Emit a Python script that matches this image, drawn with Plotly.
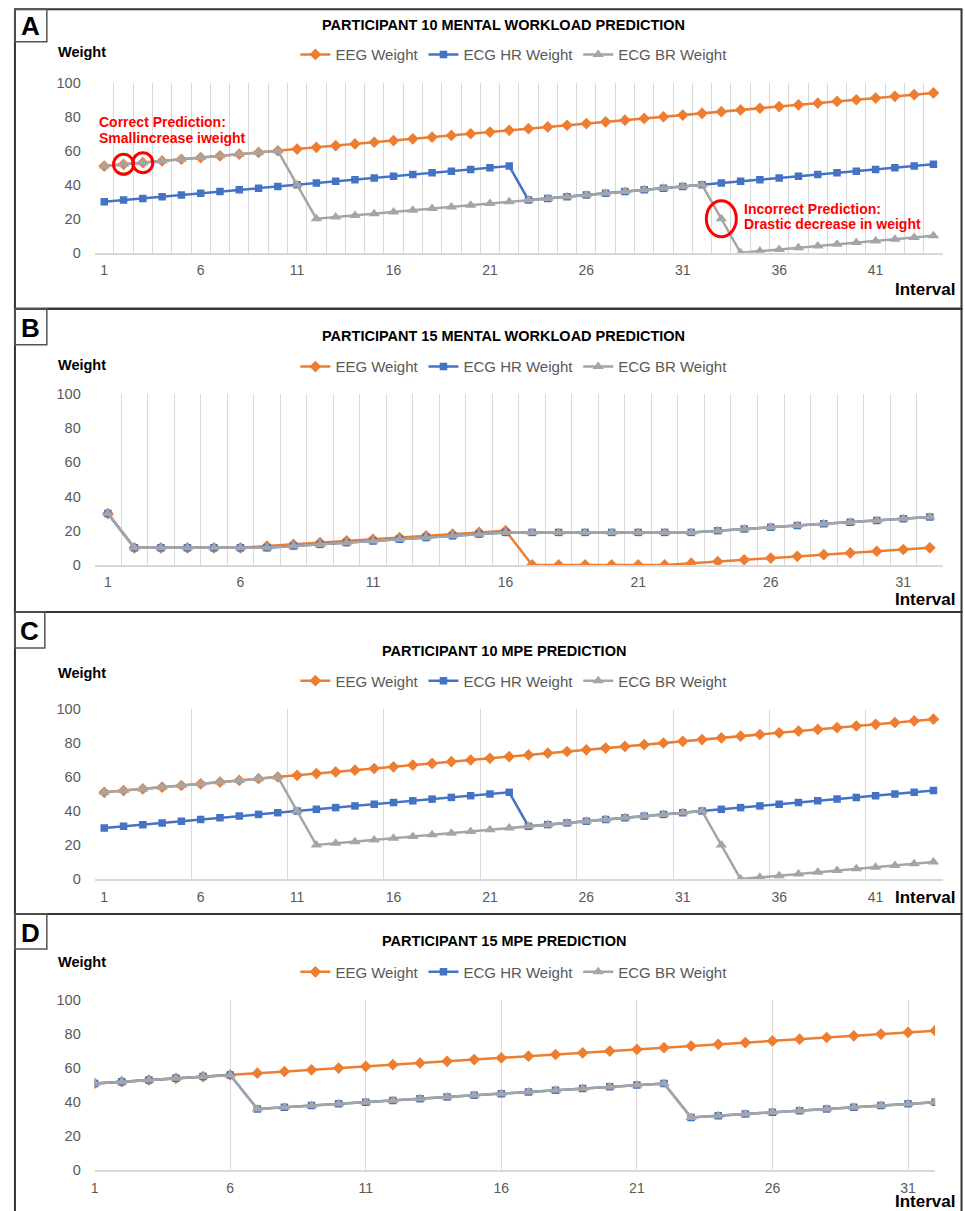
import plotly.graph_objects as go

W, H = 965, 1211
# vertical calibration of the photographed page (measured on earlier renders)
Y_SCALE, Y_SHIFT = 0.9864, 8.3

# ---------------- data ----------------
# Panel A: Participant 10 mental workload prediction
P10_MW_INTERVAL = list(range(1, 45))
P10_MW_EEG = [51, 52, 53, 54, 55, 56, 57, 58, 59, 60, 61, 62, 63, 64, 65, 66, 67, 68, 69, 70, 71, 72,
              73, 74, 75, 76, 77, 78, 79, 80, 81, 82, 83, 84, 85, 86, 87, 88, 89, 90, 91, 92, 93, 94]
P10_MW_HR = [30, 31, 32, 33, 34, 35, 36, 37, 38, 39, 40, 41, 42, 43, 44, 45, 46, 47, 48, 49, 50, 51,
             31, 32, 33, 34, 35, 36, 37, 38, 39, 40, 41, 42, 43, 44, 45, 46, 47, 48, 49, 50, 51, 52]
P10_MW_BR = [51, 52, 53, 54, 55, 56, 57, 58, 59, 60, 40, 20, 21, 22, 23, 24, 25, 26, 27, 28, 29, 30,
             31, 32, 33, 34, 35, 36, 37, 38, 39, 40, 20, 0, 1, 2, 3, 4, 5, 6, 7, 8, 9, 10]

# Panel B: Participant 15 mental workload prediction
P15_MW_INTERVAL = list(range(1, 33))
P15_MW_EEG = [30, 10, 10, 10, 10, 10, 11, 12, 13, 14, 15, 16, 17, 18, 19, 20,
              0, 0, 0, 0, 0, 0, 1, 2, 3, 4, 5, 6, 7, 8, 9, 10]
P15_MW_HR = [30, 10, 10, 10, 10, 10, 10, 11, 12, 13, 14, 15, 16, 17, 18, 19,
             19, 19, 19, 19, 19, 19, 19, 20, 21, 22, 23, 24, 25, 26, 27, 28]
P15_MW_BR = [30, 10, 10, 10, 10, 10, 10, 11, 12, 13, 14, 15, 16, 17, 18, 19,
             19, 19, 19, 19, 19, 19, 19, 20, 21, 22, 23, 24, 25, 26, 27, 28]

# Panel C: Participant 10 MPE prediction
P10_MPE_INTERVAL = list(range(1, 45))
P10_MPE_EEG = [51, 52, 53, 54, 55, 56, 57, 58, 59, 60, 61, 62, 63, 64, 65, 66, 67, 68, 69, 70, 71, 72,
               73, 74, 75, 76, 77, 78, 79, 80, 81, 82, 83, 84, 85, 86, 87, 88, 89, 90, 91, 92, 93, 94]
P10_MPE_HR = [30, 31, 32, 33, 34, 35, 36, 37, 38, 39, 40, 41, 42, 43, 44, 45, 46, 47, 48, 49, 50, 51,
              31, 32, 33, 34, 35, 36, 37, 38, 39, 40, 41, 42, 43, 44, 45, 46, 47, 48, 49, 50, 51, 52]
P10_MPE_BR = [51, 52, 53, 54, 55, 56, 57, 58, 59, 60, 40, 20, 21, 22, 23, 24, 25, 26, 27, 28, 29, 30,
              31, 32, 33, 34, 35, 36, 37, 38, 39, 40, 20, 0, 1, 2, 3, 4, 5, 6, 7, 8, 9, 10]

# Panel D: Participant 15 MPE prediction
P15_MPE_INTERVAL = list(range(1, 33))
P15_MPE_EEG = [51, 52, 53, 54, 55, 56, 57, 58, 59, 60, 61, 62, 63, 64, 65, 66,
               67, 68, 69, 70, 71, 72, 73, 74, 75, 76, 77, 78, 79, 80, 81, 82]
P15_MPE_HR = [51, 52, 53, 54, 55, 56, 36, 37, 38, 39, 40, 41, 42, 43, 44, 45,
              46, 47, 48, 49, 50, 51, 31, 32, 33, 34, 35, 36, 37, 38, 39, 40]
P15_MPE_BR = [51, 52, 53, 54, 55, 56, 36, 37, 38, 39, 40, 41, 42, 43, 44, 45,
              46, 47, 48, 49, 50, 51, 31, 32, 33, 34, 35, 36, 37, 38, 39, 40]

TICKS_44 = [1, 6, 11, 16, 21, 26, 31, 36, 41]
TICKS_32 = [1, 6, 11, 16, 21, 26, 31]
Y_TICKS = [0, 20, 40, 60, 80, 100]

SERIES_NAMES = ["EEG Weight", "ECG HR Weight", "ECG BR Weight"]
TITLES = ["PARTICIPANT 10 MENTAL WORKLOAD PREDICTION", "PARTICIPANT 15 MENTAL WORKLOAD PREDICTION",
          "PARTICIPANT 10 MPE PREDICTION", "PARTICIPANT 15 MPE PREDICTION"]
LABELS = ["A", "B", "C", "D"]

# ---------------- styling ----------------
FONT = "Liberation Sans, Arial, sans-serif"
COLORS = ["#ED7D31", "#4472C4", "#A5A5A5"]
SYMBOLS = ["diamond", "square", "triangle-up"]
MSIZES = [9, 7.5, 10]
GRID = "#D9D9D9"
TXT = "#595959"


def px(xp):
    return xp / W


def py(yp):
    page_y = (yp - Y_SHIFT) / Y_SCALE
    return 1 - page_y / H


panels = [
    dict(x=P10_MW_INTERVAL, ys=[P10_MW_EEG, P10_MW_HR, P10_MW_BR], ticks=TICKS_44,
         xr=[0.5, 44.5], grid="between1", plot=(91, 943, 83, 253), title_y=25, legend_y=55,
         weight_y=52, interval_y=290, frame=(9.5, 309), lab=(9.5, 42, 43)),
    dict(x=P15_MW_INTERVAL, ys=[P15_MW_EEG, P15_MW_HR, P15_MW_BR], ticks=TICKS_32,
         xr=[0.5, 32.5], grid="between1", plot=(91, 943, 394, 565), title_y=336, legend_y=367,
         weight_y=365, interval_y=599.5, frame=(309, 612), lab=(309, 345, 43)),
    dict(x=P10_MPE_INTERVAL, ys=[P10_MPE_EEG, P10_MPE_HR, P10_MPE_BR], ticks=TICKS_44,
         xr=[0.5, 44.5], grid="between5", plot=(91, 943, 709, 879), title_y=651, legend_y=681,
         weight_y=673, interval_y=897, frame=(612, 914), lab=(612, 648, 41)),
    dict(x=P15_MPE_INTERVAL, ys=[P15_MPE_EEG, P15_MPE_HR, P15_MPE_BR], ticks=TICKS_32,
         xr=[1, 32], grid="ontick", plot=(91, 935, 1000, 1170), title_y=941, legend_y=972,
         weight_y=962, interval_y=1201.5, frame=(914, 1240), lab=(914, 949, 43)),
]

fig = go.Figure()
layout = dict(width=W, height=H, margin=dict(l=0, r=0, t=0, b=0), autosize=False,
              paper_bgcolor="white", plot_bgcolor="white", font=dict(family=FONT, color=TXT),
              showlegend=True)
annotations = []
shapes = []

for i, p in enumerate(panels):
    n = i + 1
    sfx = "" if n == 1 else str(n)
    lg = "legend" if n == 1 else f"legend{n}"
    for k in range(3):
        fig.add_trace(go.Scatter(
            x=p["x"], y=p["ys"][k], name=SERIES_NAMES[k], mode="lines+markers",
            line=dict(color=COLORS[k], width=2.5),
            marker=dict(symbol=SYMBOLS[k], size=MSIZES[k], color=COLORS[k], line=dict(width=0)),
            xaxis=f"x{sfx}", yaxis=f"y{sfx}", legend=lg, hoverinfo="skip"))
    x0, x1, y0, y1 = p["plot"]
    xa = dict(domain=[px(x0), px(x1)], anchor=f"y{sfx}", range=p["xr"],
              tickmode="array", tickvals=p["ticks"], ticktext=[str(t) for t in p["ticks"]],
              tickfont=dict(family=FONT, size=14, color=TXT),
              showline=True, linecolor=GRID, linewidth=1.5, zeroline=False,
              ticks="outside", ticklen=4, tickcolor="rgba(0,0,0,0)", fixedrange=True)
    if p["grid"] == "between1":
        xa.update(showgrid=False, minor=dict(tick0=0.5, dtick=1, showgrid=True, gridcolor=GRID,
                                             gridwidth=1.2, ticks=""))
    elif p["grid"] == "between5":
        xa.update(showgrid=False, minor=dict(tick0=0.5, dtick=5, showgrid=True, gridcolor=GRID,
                                             gridwidth=1.2, ticks=""))
    else:
        xa.update(showgrid=True, gridcolor=GRID, gridwidth=1.2)
    ya = dict(domain=[py(y1), py(y0)], anchor=f"x{sfx}", range=[0, 100],
              tickmode="array", tickvals=Y_TICKS, showgrid=False, zeroline=False, showline=False,
              tickfont=dict(family=FONT, size=14.5, color=TXT),
              ticks="outside", ticklen=10, tickcolor="rgba(0,0,0,0)", fixedrange=True)
    layout[f"xaxis{sfx}"] = xa
    layout[f"yaxis{sfx}"] = ya
    layout[lg] = dict(orientation="h", x=px(512), xanchor="center", y=py(p["legend_y"]),
                      yanchor="middle", font=dict(family=FONT, size=15, color=TXT),
                      bgcolor="rgba(0,0,0,0)", itemwidth=30, traceorder="normal",
                      itemclick=False, itemdoubleclick=False)

    # title, axis titles
    annotations.append(dict(text=f"<b>{TITLES[i]}</b>", x=px(502), y=py(p["title_y"]),
                            xref="paper", yref="paper", xanchor="center", yanchor="middle",
                            showarrow=False, font=dict(family=FONT, size=14.5, color="black")))
    annotations.append(dict(text="<b>Weight</b>", x=px(52), y=py(p["weight_y"]),
                            xref="paper", yref="paper", xanchor="left", yanchor="middle",
                            showarrow=False, font=dict(family=FONT, size=14.5, color="black")))
    annotations.append(dict(text="<b>Interval</b>", x=px(957), y=py(p["interval_y"]),
                            xref="paper", yref="paper", xanchor="right", yanchor="middle",
                            showarrow=False, font=dict(family=FONT, size=17, color="black")))
    # frame and label box
    ft, fb = p["frame"]
    shapes.append(dict(type="rect", xref="paper", yref="paper", x0=px(11), x1=px(961.5),
                       y0=py(fb), y1=py(ft), line=dict(color="#333333", width=2)))
    lt, lb, lr = p["lab"]
    shapes.append(dict(type="rect", xref="paper", yref="paper", x0=px(11), x1=px(lr),
                       y0=py(lb), y1=py(lt), line=dict(color="#555555", width=1.5)))
    annotations.append(dict(text=f"<b>{LABELS[i]}</b>", x=px((11 + lr) / 2), y=py((lt + lb) / 2 + 1),
                            xref="paper", yref="paper", xanchor="center", yanchor="middle",
                            showarrow=False, font=dict(family=FONT, size=26, color="black")))

# red annotations on panel A
RED = "#FF0000"
annotations += [
    dict(text="<b>Correct Prediction:</b>", x=px(93), y=py(122), xref="paper", yref="paper",
         xanchor="left", yanchor="middle", showarrow=False, font=dict(family=FONT, size=14, color=RED)),
    dict(text="<b>Smallincrease iweight</b>", x=px(93), y=py(138), xref="paper", yref="paper",
         xanchor="left", yanchor="middle", showarrow=False, font=dict(family=FONT, size=14, color=RED)),
    dict(text="<b>Incorrect Prediction:</b>", x=px(741), y=py(209), xref="paper", yref="paper",
         xanchor="left", yanchor="middle", showarrow=False, font=dict(family=FONT, size=14, color=RED)),
    dict(text="<b>Drastic decrease in weight</b>", x=px(741), y=py(224), xref="paper", yref="paper",
         xanchor="left", yanchor="middle", showarrow=False, font=dict(family=FONT, size=14, color=RED)),
]
for idx in (1, 2):
    shapes.append(dict(type="circle", xref="x", yref="y", xsizemode="pixel", ysizemode="pixel",
                       xanchor=P10_MW_INTERVAL[idx], yanchor=P10_MW_BR[idx],
                       x0=-10, x1=10, y0=-10, y1=10, line=dict(color=RED, width=3)))
shapes.append(dict(type="circle", xref="x", yref="y", xsizemode="pixel", ysizemode="pixel",
                   xanchor=P10_MW_INTERVAL[32], yanchor=P10_MW_BR[32],
                   x0=-15, x1=15, y0=-18, y1=18, line=dict(color=RED, width=3)))

layout["annotations"] = annotations
layout["shapes"] = shapes
fig.update_layout(**layout)
fig.write_html("out.html", config={"displayModeBar": False},
               post_script="document.body.style.margin='0';document.body.style.padding='0';"
                           "document.body.style.overflow='hidden';"
                           "document.documentElement.style.overflow='hidden';")
